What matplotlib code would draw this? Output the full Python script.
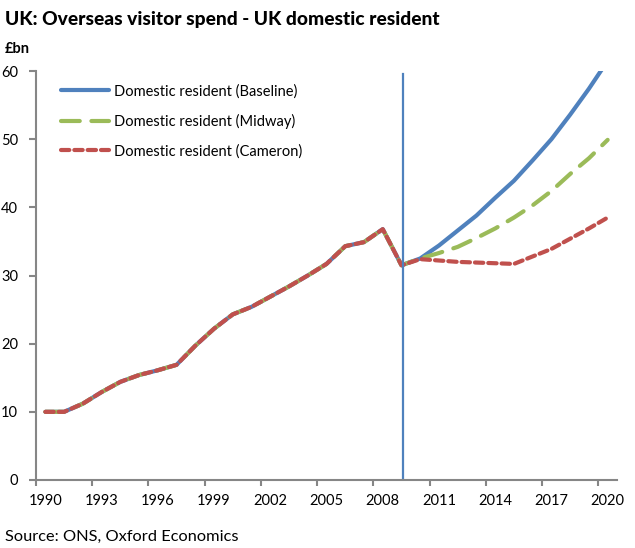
import numpy as np
import matplotlib
matplotlib.use("Agg")
import matplotlib.pyplot as plt

plt.rcParams['font.family'] = ['Lato', 'DejaVu Sans']

years = list(range(1990, 2021))
history = [10.0, 10.0, 11.2, 12.9, 14.4, 15.4, 16.1, 16.9, 19.7, 22.2,
           24.3, 25.4, 26.9, 28.4, 30.0, 31.7, 34.3, 34.9, 36.8, 31.5]
baseline = [32.5, 34.4, 36.6, 38.8, 41.4, 43.9, 46.9, 50.0, 53.6, 57.4, 61.5]
midway = [32.5, 33.3, 34.2, 35.5, 36.9, 38.5, 40.3, 42.4, 44.9, 47.2, 49.9]
cameron = [32.4, 32.2, 32.0, 31.9, 31.8, 31.7, 32.8, 33.9, 35.4, 36.9, 38.5]
label_years = [1990, 1993, 1996, 1999, 2002, 2005, 2008, 2011, 2014, 2017, 2020]
break_year = 2009

blue = "#4F81BD"
green = "#9BBB59"
red = "#C0504D"
grey = "#868686"

fig = plt.figure(figsize=(6.35, 5.48), dpi=100)
ax = fig.add_axes([0.0567, 0.1241, 0.9150, 0.7463])

x = np.array(years)
y_base = np.array(history + baseline)
y_mid = np.array(history + midway)
y_cam = np.array(history + cameron)

lw = 3.0
ax.plot(x, y_base, color=blue, lw=lw, solid_capstyle="round",
        label="Domestic resident (Baseline)")
ax.plot(x, y_mid, color=green, lw=lw, dashes=(4.5, 2.8), dash_capstyle="round",
        label="Domestic resident (Midway)")
ax.plot(x, y_cam, color=red, lw=lw, dashes=(2.0, 1.2), dash_capstyle="round",
        label="Domestic resident (Cameron)")
ax.plot([break_year + 0.1, break_year + 0.1], [0, 59.5], color=blue, lw=1.6)

ax.set_xlim(1989.5, 2020.5)
ax.set_ylim(0, 60)

# ticks between categories, labels at category centres
ax.set_xticks([yr - 0.5 for yr in label_years])
ax.set_xticklabels([])
ax.set_xticks(label_years, minor=True)
ax.set_xticklabels([str(yr) for yr in label_years], minor=True)
ax.tick_params(axis="x", which="major", direction="out", length=4, width=1.5, color=grey)
ax.tick_params(axis="x", which="minor", length=0, pad=10, labelsize=10.5)
ax.set_yticks(range(0, 61, 10))
ax.tick_params(axis="y", direction="out", length=5, width=1.5, color=grey, labelsize=10.5, pad=8)

for s in ["top", "right"]:
    ax.spines[s].set_visible(False)
for s in ["left", "bottom"]:
    ax.spines[s].set_color(grey)
    ax.spines[s].set_linewidth(1.5)

leg = ax.legend(loc="upper left", bbox_to_anchor=(0.02, 1.0), frameon=False,
                fontsize=10.5, handlelength=3.3, handletextpad=0.35, labelspacing=1.05)

fig.text(0.008, 0.965, "UK: Overseas visitor spend - UK domestic resident",
         fontsize=13.8, fontweight="black", va="center", ha="left")
fig.text(0.008, 0.91, "£bn", fontsize=10.5, fontweight="bold", va="center", ha="left")
fig.text(0.008, 0.02, "Source: ONS, Oxford Economics", fontsize=11.8, va="center", ha="left")

fig.savefig("out.png", dpi=100)
